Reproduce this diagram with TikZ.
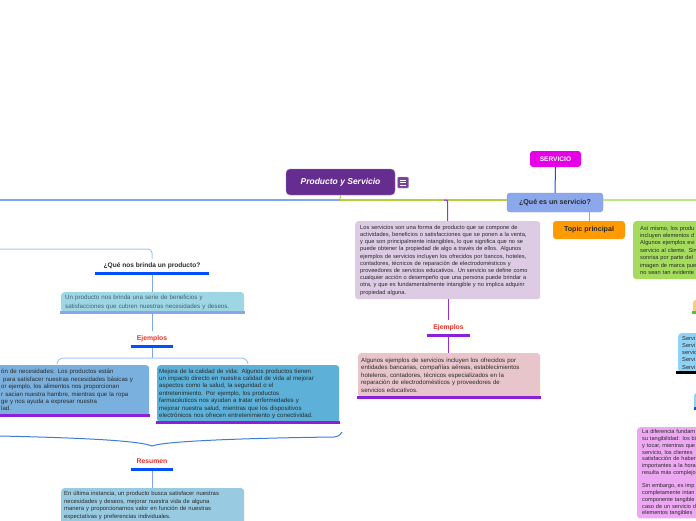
\documentclass[tikz,border=0pt]{standalone}
\usepackage{fontspec}
\setmainfont{Liberation Sans}
\usepackage{xcolor}
\usetikzlibrary{positioning}
\definecolor{RootPurple}{HTML}{662D91}
\definecolor{MagentaBox}{HTML}{E600E6}
\definecolor{QBlue}{HTML}{8CA8EC}
\definecolor{OrangeBox}{HTML}{FF9A00}
\definecolor{LimeBox}{HTML}{A5DC5E}
\definecolor{LilacBox}{HTML}{DCCBE3}
\definecolor{PinkBox}{HTML}{E8C5CB}
\definecolor{CyanBox}{HTML}{9FD6E3}
\definecolor{SatBox}{HTML}{7AB0DD}
\definecolor{MejBox}{HTML}{5DB0D8}
\definecolor{SumBox}{HTML}{98CBE2}
\definecolor{SkyBox}{HTML}{90D2F5}
\definecolor{OrchidBox}{HTML}{EDA8F2}
\definecolor{PeachBox}{HTML}{FFC87A}
\definecolor{LineBlue}{HTML}{7EA6F0}
\definecolor{PaleBlue}{HTML}{A9C6F5}
\definecolor{DeepBlue}{HTML}{1E50D0}
\definecolor{BraceBlue}{HTML}{3C7CDA}
\definecolor{TagBlue}{HTML}{0050FF}
\definecolor{RootGreen}{HTML}{B0D040}
\definecolor{LightGreen}{HTML}{B8E680}
\definecolor{LinePurple}{HTML}{9B30D9}
\definecolor{UlPurple}{HTML}{8E1FD8}
\definecolor{UlPeri}{HTML}{8AA6E8}
\definecolor{RedTag}{HTML}{E8302A}
\definecolor{TextDark}{HTML}{2A2A2A}
\definecolor{UpText}{HTML}{3E6478}
\newcommand\bodyfont{\fontsize{5.7}{7.2}\selectfont}
\newcommand\widefont{\fontsize{6.1}{7.4}\selectfont}

\begin{document}
\begin{tikzpicture}[x=1pt,y=-1pt,
    every node/.style={font=\bodyfont, text=TextDark},
    body/.style={anchor=north west, rounded corners=3pt, align=left,
      inner xsep=4pt, inner ysep=3pt},
    topicbox/.style={rounded corners=3pt, inner sep=0pt,
      font=\fontsize{7.1}{8}\selectfont\bfseries},
    tag/.style={minimum width=42pt, minimum height=15pt, inner sep=0pt,
      font=\fontsize{6.8}{8}\selectfont\bfseries, text=RedTag},
    uline/.style={line width=2.6pt},
    link/.style={line width=1pt},
    mainline/.style={line width=2pt},
    bracket/.style={line width=1pt, PaleBlue}]
  \useasboundingbox (0,0) rectangle (696,520);
  \clip (0,0) rectangle (696,520);

  % central topic
  \node[topicbox, fill=RootPurple, draw=RootPurple!60!white, rounded corners=4pt,
    minimum width=109pt, minimum height=26pt, text=white,
    font=\fontsize{8.5}{10}\selectfont\bfseries\itshape]
    (root) at (340.5,182) {Producto y Servicio};
  \node[fill=RootPurple!90!white, draw=RootPurple!50!white, rounded corners=1pt,
    minimum width=11pt, minimum height=11pt, inner sep=0pt] (menu) at (403,182.5) {};
  \foreach \dy in {-2.6,0,2.6}
    \draw[white, line width=0.8pt] ([xshift=-3pt,yshift=\dy pt]menu.center)
      -- ([xshift=3pt,yshift=\dy pt]menu.center);

  \coordinate (hub) at (340,200);
  \coordinate (westend) at (0,200);
  \coordinate (eastend) at (696,200);
  \coordinate (fork) at (444,200);

  % servicio branch
  \node[topicbox, fill=MagentaBox, text=white, minimum width=51pt, minimum height=16pt,
    font=\fontsize{6.6}{8}\selectfont\bfseries] (serv) at (555.5,159) {SERVICIO};
  \node[topicbox, fill=QBlue, draw=QBlue!80!black!40!QBlue,
    minimum width=96pt, minimum height=19pt] (qs) at (555,202.5) {¿Qué es un servicio?};
  \node[topicbox, fill=OrangeBox, minimum width=72pt, minimum height=18pt]
    (tp) at (589,230) {Topic principal};
  \node[body, fill=LilacBox, text width=175pt, minimum height=78pt, inner xsep=5pt]
    (lil) at (355,221) {Los servicios son una forma de producto que se compone de\\
    actividades, beneficios o satisfacciones que se ponen a la venta,\\
    y que son principalmente intangibles, lo que significa que no se\\
    puede obtener la propiedad de algo a través de ellos. Algunos\\
    ejemplos de servicios incluyen los ofrecidos por bancos, hoteles,\\
    contadores, técnicos de reparación de electrodomésticos y\\
    proveedores de servicios educativos. Un servicio se define como\\
    cualquier acción o desempeño que una persona puede brindar a\\
    otra, y que es fundamentalmente intangible y no implica adquirir\\
    propiedad alguna.};
  \node[tag] (ej2) at (448.5,327.5) {Ejemplos};
  \node[body, fill=PinkBox, text width=176pt, minimum height=44pt, inner xsep=3pt,
    font=\widefont] (pk) at (358,353) {Algunos ejemplos de servicios incluyen los ofrecidos por\\
    entidades bancarias, compañías aéreas, establecimientos\\
    hoteleros, contadores, técnicos especializados en la\\
    reparación de electrodomésticos y proveedores de\\
    servicios educativos.};
  \node[body, fill=LimeBox, text width=80pt, minimum height=58pt, inner xsep=7pt,
    font=\fontsize{5.7}{7.4}\selectfont] (lim) at (633,221) {Así mismo, los produ\\
    incluyen elementos d\\ Algunos ejemplos evi\\ servicio al cliente. Sin\\
    sonrisa por parte del\\ imagen de marca pue\\ no sean tan evidente};
  \node[anchor=north west, fill=PeachBox, rounded corners=2pt, inner sep=0pt,
    minimum width=20pt, minimum height=12pt] (pch) at (693,300) {};
  \node[body, fill=SkyBox, text width=40pt, minimum height=39pt]
    (sky) at (678,333) {Servi\\ Servi\\ servic\\ Servi\\ Servi};
  \node[anchor=north west, fill=SkyBox, rounded corners=2pt, inner sep=0pt,
    minimum width=10pt, minimum height=15pt] (skb) at (694,393) {};
  \node[body, fill=OrchidBox, text width=80pt, inner xsep=5pt, inner ysep=2.5pt,
    font=\fontsize{5.6}{6.75}\selectfont] (orc) at (637,427) {La diferencia fundam\\
    su tangibilidad: los bi\\ y tocar, mientras que\\ servicio, los clientes\\
    satisfacción de haber\\ importantes a la hora\\ resulta más complejo\\[6.75pt]
    Sin embargo, es imp\\ completamente intan\\ componente tangible\\
    caso de un servicio d\\ elementos tangibles};

  % producto branch
  \coordinate (lw) at (0,249);
  \node[minimum width=113pt, minimum height=14pt, inner sep=0pt,
    font=\fontsize{6.6}{8}\selectfont\bfseries] (qn) at (152,266) {¿Qué nos brinda un producto?};
  \node[body, fill=CyanBox, text width=175pt, minimum height=20pt, text=UpText,
    font=\fontsize{6.2}{8.5}\selectfont] (up) at (61,292)
    {Un producto nos brinda una serie de beneficios y\\
    satisfacciones que cubren nuestras necesidades y deseos.};
  \node[tag] (ej1) at (152,338.5) {Ejemplos};
  \coordinate (split) at (152,358);
  \node[body, fill=SatBox, text width=142pt, minimum height=50pt, inner xsep=6pt,
    font=\widefont] (sat) at (-5,365) {ón de necesidades: Los productos están\\
    \hspace{2pt}para satisfacer nuestras necesidades básicas y\\
    or ejemplo, los alimentos nos proporcionan\\
    r sacian nuestra hambre, mientras que la ropa\\
    ge y nos ayuda a expresar nuestra\\ lad.};
  \node[body, fill=MejBox, text width=178pt, minimum height=57pt, inner xsep=2pt,
    font=\widefont] (mej) at (157,365) {Mejora de la calidad de vida: Algunos productos tienen\\
    un impacto directo en nuestra calidad de vida al mejorar\\
    aspectos como la salud, la seguridad o el\\
    entretenimiento. Por ejemplo, los productos\\
    farmacéuticos nos ayudan a tratar enfermedades y\\
    mejorar nuestra salud, mientras que los dispositivos\\
    electrónicos nos ofrecen entretenimiento y conectividad.};
  \node[tag] (res) at (152,461.5) {Resumen};
  \node[body, fill=SumBox, text width=177pt, minimum height=40pt, inner xsep=3pt,
    font=\fontsize{5.9}{7.5}\selectfont] (sum) at (61,488)
    {En última instancia, un producto busca satisfacer nuestras\\
    necesidades y deseos, mejorar nuestra vida de alguna\\
    manera y proporcionarnos valor en función de nuestras\\
    expectativas y preferencias individuales.\\ \strut};

  % main lines
  \draw[link, RootGreen] (root.south) -- (hub);
  \draw[mainline, LineBlue] (hub) -- (westend);
  \draw[mainline, RootGreen] (hub) -- (hub -| qs.west);
  \draw[mainline, LightGreen] (hub -| qs.east) -- (eastend);
  \draw[link, LinePurple, rounded corners=2pt] (fork) -| (lil.north);
  \draw[link, DeepBlue] (serv.south) -- (qs.north);
  \draw[link, OrangeBox] (tp.north) -- (tp.north |- qs.south);
  \draw[link, LinePurple] (ej2.north) -- (ej2.north |- lil.south);
  \draw[link, LinePurple] (ej2.south) -- (ej2.south |- pk.north);

  \draw[bracket, rounded corners=4pt] (lw) -| (qn.north);
  \draw[link, LineBlue] (qn.south) -- (up.north -| qn.south);
  \draw[link, LineBlue] (up.south -| qn.south) -- (ej1.north);
  \draw[link, LineBlue] (ej1.south) -- (split);
  \draw[bracket] (57,364) to[out=90,in=180] (64,358) -- (241,358) to[out=0,in=90] (248,364);
  \draw[link, BraceBlue] (0,436) .. controls (90,438) and (140,441) .. (152,446)
    .. controls (164,441) and (250,438) .. (334,437) .. controls (339,436) .. (342,432);
  \draw[link, LineBlue] (res.south) -- (res.south |- sum.north);

  % underlines
  \draw[uline, TagBlue] (qn.south west) -- (qn.south east);
  \draw[uline, UlPeri] ([xshift=-1pt]up.south west) -- ([xshift=1pt]up.south east);
  \draw[uline, TagBlue] (ej1.south west) -- (ej1.south east);
  \draw[uline, UlPurple] (sat.south west) -- ([xshift=1pt]sat.south east);
  \draw[uline, UlPurple] ([xshift=-1pt]mej.south west) -- ([xshift=1pt]mej.south east);
  \draw[uline, TagBlue] (res.south west) -- (res.south east);
  \draw[uline, UlPurple] (ej2.south west) -- (ej2.south east);
  \draw[uline, UlPurple] ([xshift=-1pt]pk.south west) -- ([xshift=1pt]pk.south east);
  \draw[uline, green!70!black!60!LightGreen] ([xshift=-1pt]pch.south west) -- (pch.south east);
  \draw[uline, black] ([xshift=-2pt]sky.south west) -- (sky.south east);
  \draw[uline, TagBlue] (skb.south west) -- (skb.south east);
\end{tikzpicture}
\end{document}
